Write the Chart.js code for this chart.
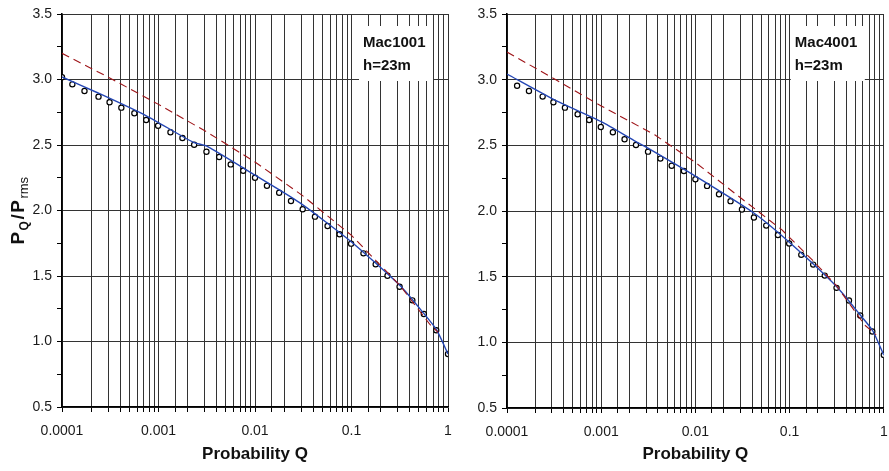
<!DOCTYPE html>
<html>
<head>
<meta charset="utf-8">
<script src="https://cdn.jsdelivr.net/npm/chart.js@4"></script>
<style>
  html, body { margin: 0; padding: 0; background: #fff; }
  .wrap { position: absolute; top: 0; height: 471px; }
  #w1 { left: 0; width: 455px; }
  #w2 { left: 455px; width: 434px; }
</style>
</head>
<body>
<div class="wrap" id="w1"><canvas id="c1"></canvas></div>
<div class="wrap" id="w2"><canvas id="c2"></canvas></div>
<script>
// probability values of the measured points (shared by both panels)
const qPoints = [0.000128, 0.000171, 0.000239, 0.000311, 0.000412, 0.000562, 0.000745, 0.00099,
  0.00133, 0.00177, 0.00234, 0.00314, 0.00425, 0.0056, 0.00755, 0.01, 0.0133, 0.0178, 0.0236,
  0.0312, 0.0418, 0.0565, 0.0752, 0.099, 0.133, 0.178, 0.236, 0.315, 0.427, 0.562, 0.755, 1];

// Mac1001 (left) - has an extra point at Q = 0.0001
const q1Points = [0.0001].concat(qPoints);
const mac1001Points = [3.017, 2.963, 2.912, 2.869, 2.826, 2.785, 2.742, 2.691, 2.647, 2.597, 2.553,
  2.502, 2.449, 2.408, 2.352, 2.304, 2.25, 2.189, 2.136, 2.073, 2.009, 1.953, 1.882, 1.819, 1.747,
  1.673, 1.589, 1.502, 1.418, 1.314, 1.21, 1.086, 0.905];
const mac1001BlueQ = [0.0001, 0.00024, 0.00074, 0.0023, 0.0032, 0.01, 0.029, 0.1, 0.32, 0.56, 0.76, 1];
const mac1001Blue = [3.02, 2.895, 2.725, 2.52, 2.49, 2.27, 2.06, 1.76, 1.425, 1.215, 1.09, 0.905];
const mac1001RedQ = [0.0001, 0.000316, 0.001, 0.00316, 0.01, 0.0316, 0.1, 0.178, 0.316, 0.65, 0.79];
const mac1001Red = [3.20, 3.01, 2.81, 2.60, 2.37, 2.11, 1.81, 1.62, 1.43, 1.13, 1.07];

// Mac4001 (right)
const mac4001Points = [2.954, 2.914, 2.871, 2.828, 2.787, 2.737, 2.693, 2.64, 2.6, 2.546, 2.503,
  2.452, 2.399, 2.345, 2.305, 2.242, 2.191, 2.128, 2.075, 2.011, 1.95, 1.889, 1.817, 1.752, 1.666,
  1.592, 1.508, 1.415, 1.318, 1.204, 1.082, 0.903];
const mac4001BlueQ = [0.0001, 0.00032, 0.001, 0.00234, 0.0031, 0.01, 0.042, 0.1, 0.32, 0.56, 0.76, 1];
const mac4001Blue = [3.043, 2.846, 2.68, 2.528, 2.48, 2.265, 1.983, 1.76, 1.42, 1.21, 1.09, 0.903];
const mac4001RedQ = [0.0001, 0.00032, 0.001, 0.0037, 0.01, 0.029, 0.083, 0.178, 0.316, 0.63, 0.83];
const mac4001Red = [3.21, 3.005, 2.80, 2.58, 2.37, 2.11, 1.856, 1.62, 1.43, 1.13, 1.057];

const xTickLabels = ['0.0001', '0.001', '0.01', '0.1', '1'];

const pts = (xs, ys) => xs.map((x, i) => ({ x: x, y: ys[i] }));
const FONT = 'Liberation Sans, Arial, sans-serif';

// white label box with the run name
const boxPlugin = {
  id: 'box',
  afterDatasetsDraw(chart, args, opts) {
    const ctx = chart.ctx, a = chart.chartArea;
    const x0 = a.right - opts.fromRight;
    ctx.save();
    ctx.fillStyle = '#fff';
    ctx.fillRect(x0, 26, 74, 55);
    ctx.fillStyle = '#111';
    ctx.font = 'bold 15px ' + FONT;
    ctx.textBaseline = 'alphabetic';
    ctx.fillText(opts.lines[0], x0 + 4, 47);
    ctx.fillText(opts.lines[1], x0 + 4, 70);
    ctx.restore();
  }
};

// y title P_Q / P_rms with subscripts
const yTitlePlugin = {
  id: 'ytitle',
  afterDraw(chart, args, opts) {
    if (!opts.show) return;
    const ctx = chart.ctx;
    const parts = [
      ['P', 'bold 19px', 0], ['Q', 'bold 12px', 4], ['/', 'bold 19px', 0],
      ['P', 'bold 19px', 0], ['rms', '13px', 4]
    ];
    ctx.save();
    let total = 0;
    parts.forEach(p => { ctx.font = p[1] + ' ' + FONT; total += ctx.measureText(p[0]).width + 1.5; });
    ctx.translate(24, 210);
    ctx.rotate(-Math.PI / 2);
    ctx.fillStyle = '#111';
    ctx.textBaseline = 'alphabetic';
    let x = -total / 2;
    parts.forEach(p => {
      ctx.font = p[1] + ' ' + FONT;
      ctx.fillText(p[0], x, p[2]);
      x += ctx.measureText(p[0]).width + 1.5;
    });
    ctx.restore();
  }
};

function makeChart(id, cfg) {
  new Chart(document.getElementById(id), {
    type: 'scatter',
    data: {
      datasets: [
        {
          data: pts(cfg.redQ, cfg.red), showLine: true, borderColor: '#9e1418', borderWidth: 1.1,
          borderDash: [8, 5], pointRadius: 0, fill: false
        },
        {
          data: pts(cfg.blueQ, cfg.blue), showLine: true, borderColor: '#2446b4', borderWidth: 1.4,
          pointRadius: 0, fill: false, tension: 0.2
        },
        {
          data: pts(cfg.q, cfg.points), showLine: false, pointStyle: 'circle', pointRadius: 2.6,
          pointBorderWidth: 1.2, pointBorderColor: '#000', pointBackgroundColor: '#fff'
        }
      ]
    },
    options: {
      responsive: true,
      maintainAspectRatio: false,
      animation: false,
      layout: { padding: { top: 14, right: cfg.padRight, left: 0, bottom: 0 } },
      plugins: {
        legend: { display: false },
        tooltip: { enabled: false },
        box: { fromRight: cfg.boxFromRight, lines: cfg.lines },
        ytitle: { show: cfg.yTitle }
      },
      scales: {
        x: {
          type: 'logarithmic',
          min: 0.0001,
          max: 1,
          afterFit: s => { s.height = cfg.xHeight; s.paddingLeft = 0; s.paddingRight = 0; },
          border: { color: '#000', width: 1.6 },
          grid: { color: '#333', lineWidth: 1, tickLength: 5, tickColor: '#000' },
          ticks: {
            autoSkip: false, maxRotation: 0, padding: 11, color: '#1a1a1a',
            font: { family: FONT, size: 14 },
            callback: function (v) {
              const e = Math.log10(v);
              if (Math.abs(e - Math.round(e)) < 1e-9) return xTickLabels[Math.round(e) + 4];
              return '';
            }
          },
          title: {
            display: true, text: 'Probability Q', color: '#111',
            font: { family: FONT, size: 17, weight: 'bold' }, padding: { top: 0, bottom: 6 }
          }
        },
        y: {
          min: 0.5,
          max: 3.5,
          afterFit: s => { s.width = cfg.yWidth; },
          border: { color: '#000', width: 1.6 },
          grid: {
            color: c => (Math.abs(c.tick.value * 2 - Math.round(c.tick.value * 2)) < 1e-6 ? '#333' : 'rgba(0,0,0,0)'),
            lineWidth: 1, tickLength: 5, tickColor: '#000'
          },
          ticks: {
            stepSize: 0.25, padding: 5, color: '#1a1a1a',
            font: { family: FONT, size: 14 },
            callback: v => (Math.abs(v * 2 - Math.round(v * 2)) < 1e-6 ? v.toFixed(1) : '')
          }
        }
      }
    },
    plugins: [boxPlugin, yTitlePlugin]
  });
}

makeChart('c1', {
  q: q1Points, points: mac1001Points,
  blueQ: mac1001BlueQ, blue: mac1001Blue, redQ: mac1001RedQ, red: mac1001Red,
  padRight: 7, yWidth: 62, xHeight: 64, boxFromRight: 89, lines: ['Mac1001', 'h=23m'], yTitle: true
});
makeChart('c2', {
  q: qPoints, points: mac4001Points,
  blueQ: mac4001BlueQ, blue: mac4001Blue, redQ: mac4001RedQ, red: mac4001Red,
  padRight: 3, yWidth: 52, xHeight: 63, boxFromRight: 93, lines: ['Mac4001', 'h=23m'], yTitle: false
});
</script>
</body>
</html>
